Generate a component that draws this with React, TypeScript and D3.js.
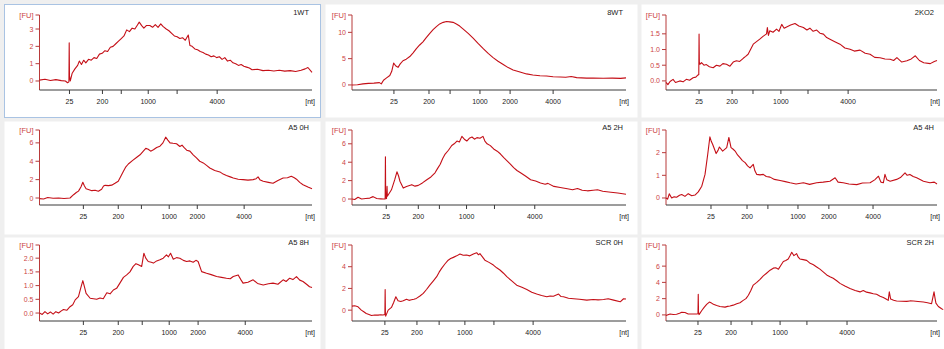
import * as d3 from "d3";

// titles, one per panel (row by row)
const titles = ["1WT", "8WT", "2KO2", "A5 0H", "A5 2H", "A5 4H", "A5 8H", "SCR 0H", "SCR 2H"];

// x tick labels (size ladder)
const ladderA = ["25", "200", "", "1000", "", "4000"];
const ladderB = ["25", "200", "", "1000", "2000", "4000"];

// x tick positions, in % of the time axis
const xTicks1 = [11.0, 23.1, 30.0, 39.9, 50.5, 65.2];
const xTicks2 = [15.3, 28.1, 35.8, 46.7, 57.7, 73.4];
const xTicks3 = [12.2, 24.4, 32.1, 42.4, 52.4, 67.2];
const xTicks4 = [16.1, 28.9, 37.4, 47.6, 57.9, 75.1];
const xTicks5 = [12.5, 24.2, 31.9, 41.8, 52.0, 66.7];
const xTicks6 = [16.6, 29.9, 37.6, 48.7, 60.1, 76.4];
const xTicks7 = [16.1, 28.9, 37.7, 47.6, 58.2, 75.5];
const xTicks8 = [12.0, 23.7, 31.8, 41.2, 51.8, 66.1];
const xTicks9 = [11.8, 24.0, 31.7, 42.1, 52.0, 66.8];

// y ticks [FU]
const yTicks1 = [0, 1, 2, 3];
const yTicks2 = [0, 5, 10];
const yTicks3 = [0, 0.5, 1, 1.5];
const yTicks4 = [0, 2, 4, 6];
const yTicks5 = [0, 2, 4, 6];
const yTicks6 = [0, 1, 2];
const yTicks7 = [0, 0.5, 1, 1.5, 2];
const yTicks8 = [0, 2, 4];
const yTicks9 = [0, 2, 4, 6];

// y axis extents [FU]
const yRange1 = [-0.52, 3.81];
const yRange2 = [-0.96, 13.3];
const yRange3 = [-0.29, 2.1];
const yRange4 = [-0.76, 7.4];
const yRange5 = [-0.65, 7.5];
const yRange6 = [-0.31, 3.0];
const yRange7 = [-0.29, 2.48];
const yRange8 = [-1.0, 6.0];
const yRange9 = [-0.75, 8.6];

// traces: [time %, FU]
const trace1 = [[0,0.05],[2,0.1],[4,0.03],[6,0.08],[8,0.02],[9.5,0.0],[10.3,-0.1],[10.8,-0.05],[10.9,2.2],[11.0,0.3],[11.3,0.0],[12,0.45],[13,0.7],[14,0.9],[14.6,1.15],[15.4,0.95],[16.2,1.2],[17,1.05],[18,1.25],[19,1.2],[20,1.35],[21,1.3],[22,1.55],[23,1.6],[24,1.75],[25,1.7],[26,1.95],[27,2.0],[28,2.15],[29,2.3],[30,2.45],[31,2.6],[32,2.95],[33,2.85],[34,3.05],[35,3.0],[36,3.25],[36.6,3.4],[37.5,3.2],[38.3,3.05],[39.2,3.2],[40.5,3.2],[41.5,3.1],[42.5,3.25],[43.5,3.1],[44.5,3.3],[45.3,3.15],[46.5,3.0],[47.5,2.9],[48.5,2.75],[49.5,2.6],[50.5,2.55],[51.5,2.45],[52.5,2.5],[53.5,2.35],[54.6,2.65],[55.2,2.05],[56,2.0],[57,1.85],[58,1.8],[59,1.7],[60,1.65],[61,1.55],[62,1.5],[63,1.4],[64,1.45],[65,1.35],[66,1.4],[67,1.25],[68,1.35],[69,1.15],[70,1.2],[71,1.05],[72,1.0],[73,0.9],[74,0.95],[75,0.85],[76,0.8],[77,0.75],[78,0.65],[80,0.68],[82,0.6],[84,0.62],[86,0.58],[88,0.62],[90,0.57],[92,0.6],[94,0.55],[96,0.62],[97.5,0.7],[98.5,0.78],[100,0.5]];
const trace2 = [[0,0],[2,0.05],[4,0.2],[6,0.3],[8,0.35],[10,0.45],[10.7,0.2],[11.5,0.9],[12.5,1.3],[13.8,1.8],[14.5,2.6],[15.2,4.15],[16,3.6],[16.8,3.35],[17.6,4.0],[18.6,4.6],[19.8,4.9],[21.1,5.4],[22.3,6.1],[23.5,6.9],[24.7,7.6],[25.9,8.2],[27.1,9.0],[28.4,9.8],[29.6,10.5],[30.8,11.1],[32,11.6],[33.3,11.9],[34.5,12.05],[35.7,12.0],[36.9,11.9],[38.1,11.6],[39.3,11.2],[40.6,10.6],[42.4,9.8],[44.2,8.9],[46,7.9],[47.9,6.9],[49.7,6.0],[51.5,5.2],[53.3,4.5],[55.2,3.9],[57,3.3],[58.8,2.85],[61,2.5],[63.7,2.1],[66,1.9],[68.6,1.75],[71,1.7],[73.4,1.55],[76,1.5],[78,1.45],[80,1.6],[82,1.4],[85.6,1.3],[88,1.3],[91.7,1.28],[95,1.3],[98,1.25],[100,1.35]];
const trace3 = [[0,-0.05],[0.7,-0.12],[1.5,-0.02],[2.6,0.05],[3.5,-0.05],[5.1,0.0],[6.3,-0.03],[7.5,0.05],[8.7,0.02],[10,0.1],[11,0.12],[11.8,0.19],[12.1,0.2],[12.2,1.49],[12.3,0.6],[12.5,0.53],[13.1,0.58],[14,0.5],[14.9,0.52],[16,0.45],[17.4,0.42],[18.6,0.5],[19.9,0.47],[21,0.55],[22.3,0.53],[23.6,0.47],[24.8,0.6],[26,0.64],[27.2,0.62],[28.5,0.72],[29.4,0.78],[30.3,0.85],[31.2,1.0],[32.2,1.17],[33.4,1.25],[34.6,1.33],[35.8,1.42],[37.1,1.5],[37.4,1.7],[37.8,1.45],[38.3,1.6],[39.5,1.55],[40.8,1.65],[41.7,1.58],[42.7,1.8],[43.6,1.68],[44.5,1.72],[46,1.78],[47.6,1.83],[49,1.75],[50.7,1.7],[52,1.62],[53.1,1.68],[54.3,1.58],[55.6,1.62],[56.8,1.52],[58.1,1.49],[59.3,1.38],[60.5,1.33],[62.3,1.25],[64.2,1.17],[66,1.05],[67.9,1.01],[69.5,0.95],[71.6,0.98],[73.5,0.88],[75.3,0.85],[77,0.75],[79,0.74],[80.8,0.7],[82.7,0.69],[84,0.65],[85.2,0.74],[87,0.6],[88.9,0.64],[90.5,0.7],[92,0.8],[93.5,0.65],[95.1,0.58],[97.5,0.55],[99,0.62],[100,0.65]];
const trace4 = [[0,-0.07],[1.5,-0.1],[3,0.05],[5,-0.02],[7,0.0],[9,-0.05],[11.2,0.0],[12.5,0.36],[13.5,0.6],[14.3,0.75],[15.2,1.2],[15.9,1.71],[16.5,1.3],[17.1,1.0],[18.2,0.9],[19.2,0.8],[20.4,0.85],[21.6,0.73],[22.8,0.95],[23.5,1.3],[24.1,1.38],[25.3,1.35],[26.5,1.4],[27.7,1.6],[28.9,1.82],[29.9,2.4],[30.8,2.9],[31.7,3.4],[32.6,3.7],[34.2,4.1],[35.7,4.44],[36.9,4.7],[38.1,5.1],[39,5.4],[39.9,5.3],[40.8,5.1],[41.8,5.25],[43,5.5],[44.2,5.64],[45.3,6.0],[46.3,6.62],[47.1,6.3],[47.9,6.0],[49,5.95],[50.3,5.9],[51.5,5.6],[52.3,5.75],[53,5.5],[54,5.2],[55.2,5.1],[56.4,4.7],[57.6,4.36],[58.8,4.0],[60.1,3.82],[61.3,3.55],[62.5,3.27],[64.3,3.0],[66.2,2.84],[67.4,2.6],[68.6,2.44],[70,2.3],[71.1,2.18],[72.9,2.05],[74.7,2.0],[76.5,1.95],[78.4,2.0],[79.5,2.1],[80.2,2.3],[81,1.95],[82.1,1.82],[84,1.7],[85.7,1.6],[87.5,1.9],[89.4,2.18],[91,2.2],[92.4,2.36],[93.5,2.2],[94.3,2.05],[95.5,1.7],[96.7,1.45],[98.5,1.2],[100,1.02]];
const trace5 = [[0,0],[1,-0.05],[2.2,0.19],[3.5,0.0],[5,0.05],[6.5,0.1],[7.7,0.26],[9,0.05],[10.5,0.02],[11.4,0],[12.1,0],[12.2,4.6],[12.3,0.1],[12.6,0.05],[12.8,1.37],[12.9,0.3],[13.2,0.44],[14.4,1.0],[15.6,2.1],[16.4,2.96],[17,2.5],[17.5,1.93],[18.7,1.19],[19.9,1.37],[21.8,1.56],[23,1.4],[24.2,1.48],[25.7,1.75],[27.3,2.1],[28.8,2.4],[30.3,2.85],[31.2,3.3],[32.2,3.78],[33.1,4.4],[34,4.89],[35.2,5.3],[36.4,5.81],[37.3,6.0],[38.3,6.3],[39.2,6.2],[40.1,6.81],[41,6.5],[41.9,6.3],[42.8,6.6],[43.8,6.74],[44.7,6.5],[45.6,6.67],[46.7,6.6],[47.8,6.81],[48.5,6.3],[49.3,6.0],[50.5,5.8],[51.7,5.44],[53,5.2],[54.2,4.89],[55.4,4.5],[56.6,4.15],[57.8,3.8],[59,3.41],[60.2,3.1],[61.5,2.85],[63.3,2.5],[65.2,2.1],[67,1.95],[68.8,1.74],[70.5,1.6],[71.5,1.7],[73.7,1.37],[76,1.25],[78.6,1.11],[80.5,1.0],[82.3,1.15],[84,0.95],[85.9,0.89],[88,0.95],[89.6,1.0],[91.5,0.85],[94.5,0.74],[97,0.65],[100,0.52]];
const trace6 = [[0,0],[0.6,-0.05],[1.2,0.18],[2.1,0.0],[3,0.05],[3.9,0.03],[5,0.12],[5.8,0.15],[7,0.07],[8.2,0.19],[9.5,0.1],[10.7,0.13],[11.9,0.27],[13.2,0.52],[14.4,1.04],[15.4,1.93],[16.2,2.7],[16.7,2.5],[17.2,2.37],[18.5,1.96],[19.2,2.1],[19.7,2.25],[20.9,2.07],[22.4,2.22],[23.2,2.67],[24,2.22],[24.8,2.15],[25.5,2.07],[26.4,1.9],[27.3,1.78],[28.2,1.65],[29.2,1.56],[30.1,1.42],[31,1.33],[32.2,1.48],[32.8,1.2],[33.5,1.04],[34.7,1.02],[35.9,1.04],[37,0.95],[38.4,0.92],[40,0.82],[42.1,0.77],[44,0.72],[45.8,0.67],[48,0.62],[50.7,0.67],[53,0.6],[55.6,0.67],[58,0.7],[60.5,0.74],[62.4,0.89],[63.5,0.7],[65.4,0.67],[67.5,0.62],[70.4,0.59],[72.5,0.66],[75.3,0.67],[77,0.8],[78.4,0.96],[79.3,0.7],[80.2,0.67],[80.8,1.04],[81.5,0.8],[82.7,0.74],[85.1,0.82],[86.5,0.9],[88.2,1.11],[89,1.0],[90,1.04],[91.2,0.95],[92.5,0.89],[95,0.74],[97.4,0.67],[99,0.7],[100,0.62]];
const trace7 = [[0,0],[1,-0.05],[2,0.05],[3,-0.03],[4,0.04],[5,-0.04],[6,0.05],[7,0.0],[8,0.08],[8.8,0.13],[10,0.1],[11.2,0.23],[12.2,0.3],[13.1,0.48],[14.3,0.6],[15.1,0.9],[15.9,1.18],[16.5,0.95],[17.1,0.72],[18.6,0.54],[19.8,0.52],[21,0.5],[22.2,0.55],[23.4,0.52],[24.7,0.74],[25.9,0.7],[27.1,0.84],[28.3,0.9],[29.5,1.09],[30.8,1.3],[32,1.39],[33.2,1.5],[34.4,1.7],[35.4,1.8],[36.3,1.76],[37.5,1.7],[38.3,2.18],[39,2.0],[39.9,1.88],[41,1.85],[41.8,1.82],[43,1.9],[44.2,1.94],[45.4,2.0],[46.6,2.12],[47.3,2.05],[48.1,2.18],[49.1,1.96],[50.3,2.02],[51.5,2.0],[52.8,1.92],[54,1.88],[55.2,1.9],[56.4,1.85],[57.4,1.92],[58.2,1.88],[59.5,1.51],[61.3,1.45],[63,1.4],[65,1.33],[66.8,1.3],[68.6,1.27],[70,1.25],[71.1,1.33],[72.9,1.39],[74,1.2],[74.7,1.09],[76.5,1.12],[78.4,1.21],[80,1.08],[82.1,1.02],[84,1.07],[85.7,1.09],[87.5,1.05],[89.4,1.21],[90.5,1.15],[91.8,1.27],[93,1.22],[94.3,1.33],[95.5,1.2],[96.7,1.15],[98,1.05],[99.1,0.96],[100,0.93]];
const trace8 = [[0,0.37],[1,0.4],[2.2,0.31],[3.4,0.0],[4.3,-0.15],[5.2,-0.31],[6.2,-0.4],[7.1,-0.49],[8.3,-0.45],[9.5,-0.46],[10.5,-0.42],[11.3,-0.45],[12,-0.4],[12.1,1.9],[12.2,-0.3],[12.3,-0.55],[13.2,0.0],[14.4,0.25],[15.2,0.7],[16,1.23],[16.8,0.86],[17.8,0.8],[18.7,0.86],[19.9,1.0],[20.8,0.9],[21.7,0.95],[22.6,1.0],[23.5,1.08],[24.8,1.3],[26,1.54],[27.2,1.9],[28.4,2.3],[29.7,2.7],[30.9,3.08],[31.8,3.5],[32.7,3.85],[33.9,4.25],[35.1,4.6],[36,4.75],[37,4.86],[38.2,5.0],[39.4,5.17],[40.6,5.05],[41.8,5.08],[43,5.0],[44.3,5.17],[45.5,5.29],[46.1,5.1],[46.7,5.2],[47.6,4.9],[48.5,4.6],[50,4.4],[51.6,4.15],[52.8,3.9],[54,3.7],[55.3,3.4],[56.5,3.08],[58.3,2.7],[60.1,2.3],[62,2.1],[63.8,1.9],[65.6,1.65],[67.4,1.48],[69.2,1.35],[71.1,1.23],[72.3,1.3],[73.5,1.28],[75.4,1.48],[76.3,1.25],[77.2,1.23],[79,1.1],[80.9,1.05],[83,1.0],[85.7,0.92],[88,0.98],[89.8,0.95],[91.8,0.98],[93.5,1.05],[95.5,0.92],[97.9,0.77],[99.1,1.05],[100,1.03]];
const trace9 = [[0,-0.08],[1.5,0.12],[2.7,0.05],[3.9,0.08],[5,0.2],[5.8,0.33],[7,0.3],[8.2,0.12],[10,0.12],[11.3,0.12],[11.8,0.15],[11.9,2.54],[12,0.3],[12.2,0.04],[13.2,0.54],[14,0.9],[15,1.29],[16,1.58],[16.8,1.45],[17.5,1.3],[18.7,1.15],[19.9,1.04],[21.8,0.96],[22.7,1.05],[23.6,1.1],[24.8,1.2],[26.1,1.38],[27.3,1.5],[28.5,1.79],[29.5,2.0],[30.4,2.42],[31.3,3.0],[32.2,3.67],[33.5,4.0],[34.7,4.38],[35.9,4.8],[37.1,5.13],[38.4,5.5],[39.6,5.75],[40.5,5.8],[41.5,5.63],[42.4,6.1],[43.3,6.58],[44.2,6.7],[45.1,6.88],[45.8,7.3],[46.4,7.71],[46.8,7.5],[47.2,7.29],[48.2,7.54],[48.8,7.1],[49.4,6.88],[50.6,6.8],[51.9,6.71],[53,6.4],[54.4,6.17],[55.6,5.9],[56.8,5.63],[58,5.3],[59.3,4.92],[60.5,4.7],[61.7,4.5],[63,4.2],[64.2,3.88],[66,3.55],[67.9,3.25],[69.8,3.0],[71.6,2.83],[72.8,3.0],[74,2.8],[75.3,2.71],[76.5,2.6],[77.7,2.54],[79,2.3],[80.2,2.13],[81.2,1.95],[82,1.79],[82.4,2.83],[82.9,1.95],[84,1.8],[85.1,1.71],[87,1.68],[88.8,1.66],[90,1.72],[91.3,1.71],[93,1.65],[95,1.58],[96.5,1.5],[98,1.38],[98.9,2.83],[99.3,2.0],[99.6,1.45],[100.5,1.04],[101.7,0.75],[102.3,0.65]];

const panels = [
  { trace: trace1, xTicks: xTicks1, labels: ladderA, yTicks: yTicks1, yRange: yRange1, dec: 0 },
  { trace: trace2, xTicks: xTicks2, labels: ladderB, yTicks: yTicks2, yRange: yRange2, dec: 0 },
  { trace: trace3, xTicks: xTicks3, labels: ladderA, yTicks: yTicks3, yRange: yRange3, dec: 1 },
  { trace: trace4, xTicks: xTicks4, labels: ladderB, yTicks: yTicks4, yRange: yRange4, dec: 0 },
  { trace: trace5, xTicks: xTicks5, labels: ladderA, yTicks: yTicks5, yRange: yRange5, dec: 0 },
  { trace: trace6, xTicks: xTicks6, labels: ladderB, yTicks: yTicks6, yRange: yRange6, dec: 0 },
  { trace: trace7, xTicks: xTicks7, labels: ladderB, yTicks: yTicks7, yRange: yRange7, dec: 1 },
  { trace: trace8, xTicks: xTicks8, labels: ladderA, yTicks: yTicks8, yRange: yRange8, dec: 0 },
  { trace: trace9, xTicks: xTicks9, labels: ladderA, yTicks: yTicks9, yRange: yRange9, dec: 0 },
].map((p, i) => ({ ...p, title: titles[i] }));

// layout (pixels)
const colBox = [[4, 320], [325, 637], [641, 950]];
const rowBox = [[4, 117], [121, 234], [237, 352]];
const axisX = [[39.5, 312], [352, 626], [666, 937]];
const axisY = [[15, 90], [130, 205], [245, 321]];

const FONT = "'Liberation Sans', Arial, sans-serif";
const RED = "#c40f17";
const AXIS_RED = "#b83a3a";
const LABEL_RED = "#cc4444";

const Panel = ({ p, col, row }: any) => {
  const [x0, x1] = axisX[col];
  const [yTop, yBot] = axisY[row];
  const x = d3.scaleLinear().domain([0, 100]).range([x0, x1]);
  const y = d3.scaleLinear().domain(p.yRange).range([yBot, yTop]);
  const line = d3.line<number[]>().x((d) => x(d[0])).y((d) => y(d[1]));
  const fmt = d3.format(p.dec ? ".1f" : "d");
  const [bx0, bx1] = colBox[col];
  const [by0, by1] = rowBox[row];
  const selected = col === 0 && row === 0;
  return (
    <g>
      <rect x={bx0 + 0.5} y={by0 + 0.5} width={bx1 - bx0} height={by1 - by0} fill="#fff"
        stroke={selected ? "#a9c3e3" : "none"} />
      <text x={x1 - 3} y={yTop} fontSize={7.5} textAnchor="end" fill="#222" fontFamily={FONT}>{p.title}</text>
      <text x={x0 - 6} y={yTop + 2.5} fontSize={7.5} textAnchor="end" fill={LABEL_RED} fontFamily={FONT}>[FU]</text>
      {/* y axis */}
      <line x1={x0} x2={x0} y1={yTop} y2={yBot} stroke={AXIS_RED} />
      <line x1={x0 - 4} x2={x0} y1={yTop} y2={yTop} stroke={AXIS_RED} />
      {p.yTicks.map((t: number) => (
        <g key={t}>
          <line x1={x0 - 4} x2={x0} y1={y(t)} y2={y(t)} stroke={AXIS_RED} />
          <text x={x0 - 6} y={y(t) + 2.5} fontSize={7} textAnchor="end" fill={LABEL_RED} fontFamily={FONT}>{fmt(t)}</text>
        </g>
      ))}
      {/* x axis */}
      <line x1={x0} x2={x1} y1={yBot} y2={yBot} stroke="#3a3a3a" />
      {p.xTicks.map((t: number, i: number) => (
        <g key={i}>
          <line x1={x(t)} x2={x(t)} y1={yBot} y2={yBot + 4} stroke="#3a3a3a" />
          <text x={x(t)} y={yBot + 14} fontSize={7} textAnchor="middle" fill="#222" fontFamily={FONT}>{p.labels[i]}</text>
        </g>
      ))}
      <text x={x1 + 3} y={yBot + 14} fontSize={7} textAnchor="end" fill="#222" fontFamily={FONT}>[nt]</text>
      <path d={line(p.trace) || ""} fill="none" stroke={RED} strokeWidth={1.1} strokeLinejoin="round" />
    </g>
  );
};

export default function App() {
  return (
    <svg width={944} height={349} style={{ position: "absolute", left: 0, top: 0 }}>
      <rect width={944} height={349} fill="#efefef" />
      {panels.map((p, i) => (
        <Panel key={i} p={p} col={i % 3} row={Math.floor(i / 3)} />
      ))}
    </svg>
  );
}
